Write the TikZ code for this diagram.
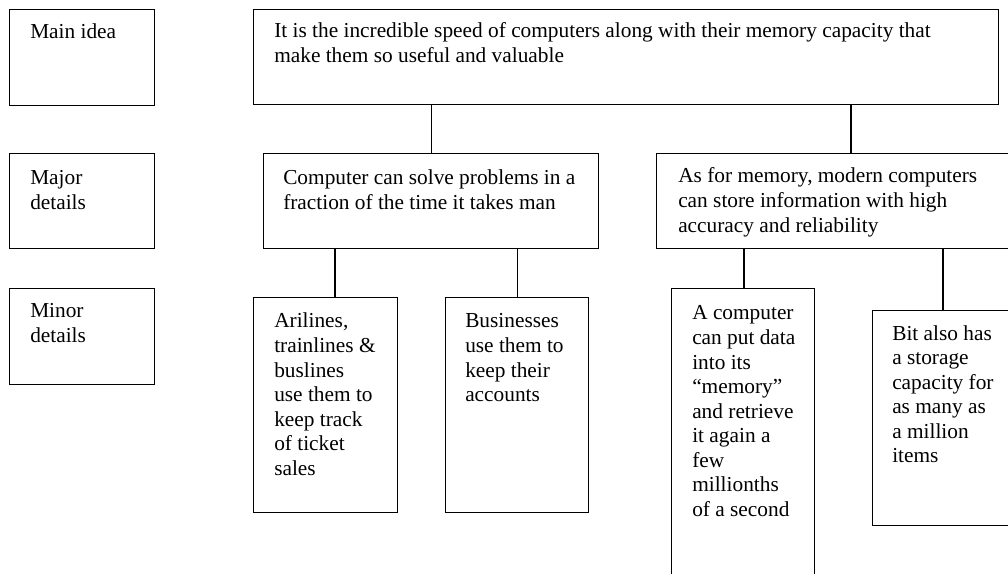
\documentclass[tikz,border=0pt]{standalone}
\usepackage{fontspec}
\setmainfont{Liberation Serif}
\usetikzlibrary{calc}
\begin{document}
\begin{tikzpicture}[x=0.75pt,y=-0.75pt,
  box/.style 2 args={draw, line width=1.1pt, inner sep=0pt, anchor=north west,
    minimum width=#1*0.75pt, minimum height=#2*0.75pt},
  txt/.style={anchor=base west, inner sep=0pt,
    font=\fontsize{16pt}{18.4pt}\selectfont},
  conn/.style={draw, line width=1.1pt}]
\useasboundingbox (0,0) rectangle (1008,574);
\clip (0,0) rectangle (1008,574);

% row labels
\node[box={145}{96}] (idea) at (9,9) {};
\node[box={145}{95}] (majlab) at (9,153) {};
\node[box={145}{96}] (minlab) at (9,288) {};

% main idea
\node[box={745}{95}] (main) at (253,9) {};

% major details
\node[box={335}{95}] (maj1) at (263,153) {};
\node[box={400}{95}] (maj2) at (656,153) {};

% minor details
\node[box={144}{215}] (min1) at (253,297) {};
\node[box={143}{215}] (min2) at (445,297) {};
\node[box={143}{320}] (min3) at (671,288) {};
\node[box={160}{215}] (min4) at (872,310) {};

% texts
\node[txt] (idea-t) at ($(idea.north west)+(21,30)$) {\parbox[t]{120pt}{Main idea}};
\node[txt] (majlab-t) at ($(majlab.north west)+(21,32)$) {\parbox[t]{120pt}{Major\\details}};
\node[txt] (minlab-t) at ($(minlab.north west)+(21,30)$) {\parbox[t]{120pt}{Minor\\details}};
\node[txt] (main-t) at ($(main.north west)+(21,29)$) {\parbox[t]{600pt}{It is the incredible speed of computers along with their memory capacity that\\make them so useful and valuable}};
\node[txt] (maj1-t) at ($(maj1.north west)+(20,32)$) {\parbox[t]{300pt}{Computer can solve problems in a\\fraction of the time it takes man}};
\node[txt] (maj2-t) at ($(maj2.north west)+(22,30)$) {\parbox[t]{300pt}{As for memory, modern computers\\can store information with high\\accuracy and reliability}};
\node[txt] (min1-t) at ($(min1.north west)+(21,31)$) {\parbox[t]{120pt}{Arilines,\\trainlines \&\\buslines\\use them to\\keep track\\of ticket\\sales}};
\node[txt] (min2-t) at ($(min2.north west)+(20,31)$) {\parbox[t]{120pt}{Businesses\\use them to\\keep their\\accounts}};
\node[txt] (min3-t) at ($(min3.north west)+(21,32)$) {\parbox[t]{120pt}{A computer\\can put data\\into its\\“memory”\\and retrieve\\it again a\\few\\millionths\\of a second}};
\node[txt] (min4-t) at ($(min4.north west)+(20,30)$) {\parbox[t]{120pt}{Bit also has\\a storage\\capacity for\\as many as\\a million\\items}};

% connectors
\draw[conn] (maj1.north) -- (maj1.north |- main.south);
\coordinate (k2) at ($(maj2.north west)+(195,0)$);
\draw[conn] (k2) -- (k2 |- main.south);
\coordinate (k3) at ($(min1.north west)+(82,0)$);
\draw[conn] (k3) -- (k3 |- maj1.south);
\draw[conn] (min2.north) -- (min2.north |- maj1.south);
\coordinate (k5) at ($(min3.north west)+(73,0)$);
\draw[conn] (k5) -- (k5 |- maj2.south);
\coordinate (k6) at ($(min4.north west)+(71,0)$);
\draw[conn] (k6) -- (k6 |- maj2.south);
\end{tikzpicture}
\end{document}
